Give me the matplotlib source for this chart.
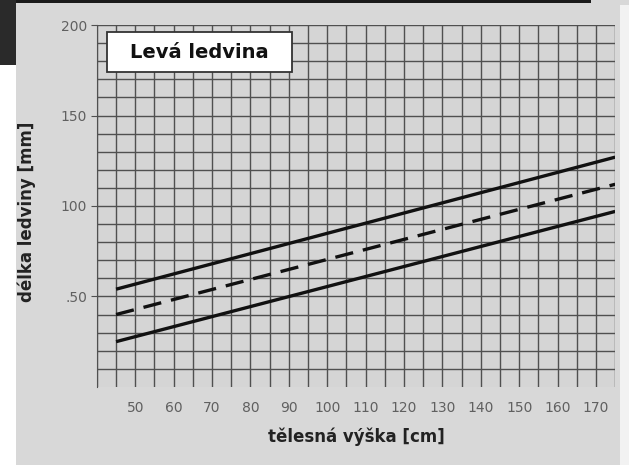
import matplotlib
matplotlib.use('Agg')
import matplotlib.pyplot as plt
from matplotlib.patches import Rectangle

# Data: body height [cm] vs. kidney length [mm]
height_cm = [45, 175]
upper_mm = [54, 127]
mean_mm = [40, 112]
lower_mm = [25, 97]

x_ticks = [50, 60, 70, 80, 90, 100, 110, 120, 130, 140, 150, 160, 170]
y_ticks = [50, 100, 150, 200]
y_tick_labels = ['.50', '100', '150', '200']

bg = '#d8d8d8'
grid_col = '#505050'
txt_col = '#606060'

fig = plt.figure(figsize=(6.29, 4.65), dpi=100, facecolor=bg)
ax = fig.add_axes([0.154, 0.168, 0.824, 0.778])
ax.set_facecolor('#d5d5d5')

# grid: every 5 cm across, every 10 mm up
for gx in range(40, 180, 5):
    ax.axvline(gx, color=grid_col, lw=1.0, zorder=1)
for gy in range(10, 210, 10):
    ax.axhline(gy, color=grid_col, lw=1.0, zorder=1)

ax.plot(height_cm, upper_mm, color='#111111', lw=2.4, solid_capstyle='butt', zorder=3)
ax.plot(height_cm, mean_mm, color='#111111', lw=2.4, ls=(0, (5.5, 3)), zorder=3)
ax.plot(height_cm, lower_mm, color='#111111', lw=2.4, solid_capstyle='butt', zorder=3)

ax.set_xlim(40, 175)
ax.set_ylim(0, 200)
ax.set_xticks(x_ticks)
ax.set_xticklabels([str(v) for v in x_ticks])
ax.set_yticks(y_ticks)
ax.set_yticklabels(y_tick_labels)
ax.tick_params(axis='x', length=0, pad=10, labelsize=10, labelcolor=txt_col)
ax.tick_params(axis='y', length=4, color=grid_col, pad=3, labelsize=10, labelcolor=txt_col)
for s in ['top', 'right', 'bottom']:
    ax.spines[s].set_visible(False)
ax.spines['left'].set_color(grid_col)

ax.set_xlabel('tělesná výška [cm]', fontsize=12, fontweight='bold', color='#222222', labelpad=9)
ax.set_ylabel('délka ledviny [mm]', fontsize=12, fontweight='bold', color='#222222')
ax.yaxis.set_label_coords(-0.118, 0.485)

# title box
ax.add_patch(Rectangle((0.019, 0.870), 0.357, 0.111, transform=ax.transAxes,
                       fc='white', ec='#333333', lw=1.3, zorder=5))
ax.text(0.198, 0.925, 'Levá ledvina', transform=ax.transAxes, fontsize=14,
        fontweight='bold', color='#111111', va='center', ha='center', zorder=6)

# screenshot leftovers around the scan
for rect, col in [((0, 0.993, 0.94, 0.007), '#1a1a1a'),
                  ((0, 0.86, 0.025, 0.14), '#2a2a2a'),
                  ((0, 0, 0.025, 0.86), 'white'),
                  ((0.985, 0, 0.015, 0.99), '#f2f2f2')]:
    fig.patches.append(Rectangle(rect[:2], rect[2], rect[3], transform=fig.transFigure,
                                 fc=col, ec='none', zorder=-1))

fig.savefig('out.png', dpi=100, facecolor=bg)
